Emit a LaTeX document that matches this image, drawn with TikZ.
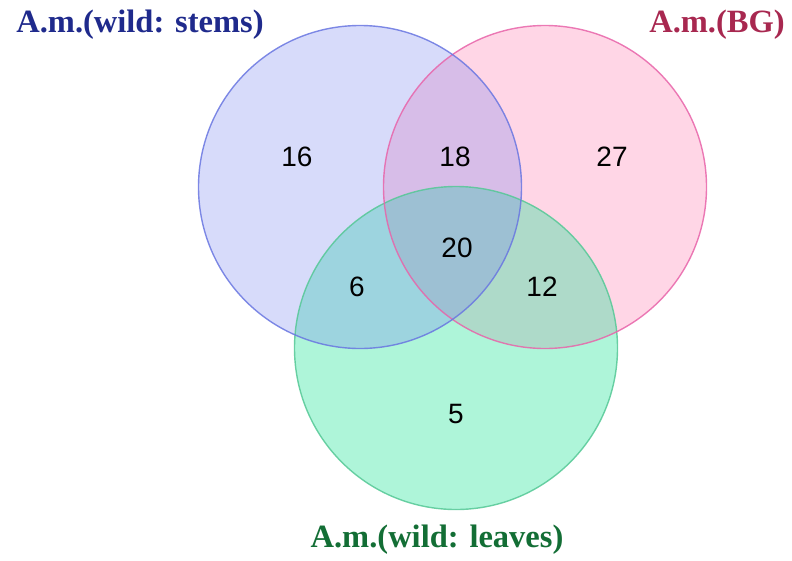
\documentclass[tikz,border=0pt]{standalone}
\usepackage{fontspec}
\setmainfont{Liberation Serif}
\newfontfamily\numfont{Liberation Sans}
\definecolor{blueF}{RGB}{112,126,237}
\definecolor{pinkF}{RGB}{255,109,166}
\definecolor{greenF}{RGB}{24,226,147}
\definecolor{blueS}{RGB}{105,118,225}
\definecolor{pinkS}{RGB}{232,100,170}
\definecolor{greenS}{RGB}{85,200,150}
\definecolor{blueT}{RGB}{31,42,140}
\definecolor{pinkT}{RGB}{168,40,80}
\definecolor{greenT}{RGB}{19,110,53}
\tikzset{
  num/.style={font=\numfont\fontsize{28}{30}\selectfont, inner sep=0pt},
  ttl/.style={font=\bfseries\fontsize{32.5}{34}\selectfont, inner sep=0pt, anchor=base},
  ring/.style={line width=1.4pt, draw opacity=0.85}
}
\begin{document}
\begin{tikzpicture}[x=1pt,y=-1pt]
\useasboundingbox (0,0) rectangle (792,560);
\fill[pinkF, fill opacity=0.28] (545,187) circle (161.5);
\fill[greenF, fill opacity=0.35] (456,348) circle (161.5);
\fill[blueF, fill opacity=0.28] (360,187) circle (161.5);
\draw[ring, greenS] (456,348) circle (161.5);
\draw[ring, pinkS] (545,187) circle (161.5);
\draw[ring, blueS] (360,187) circle (161.5);
\node[ttl, text=blueT] (tstems) at (140,32) {A.m.(wild: stems)};
\node[ttl, text=pinkT] (tbg) at (717,32) {A.m.(BG)};
\node[ttl, text=greenT] (tleaves) at (437,547) {A.m.(wild: leaves)};
\node[num] (n16) at (297,157) {16};
\node[num] (n18) at (455,157) {18};
\node[num] (n27) at (612,157) {27};
\node[num] (n20) at (457,248) {20};
\node[num] (n6) at (357,287) {6};
\node[num] (n12) at (542,287) {12};
\node[num] (n5) at (456,414) {5};
\end{tikzpicture}
\end{document}
